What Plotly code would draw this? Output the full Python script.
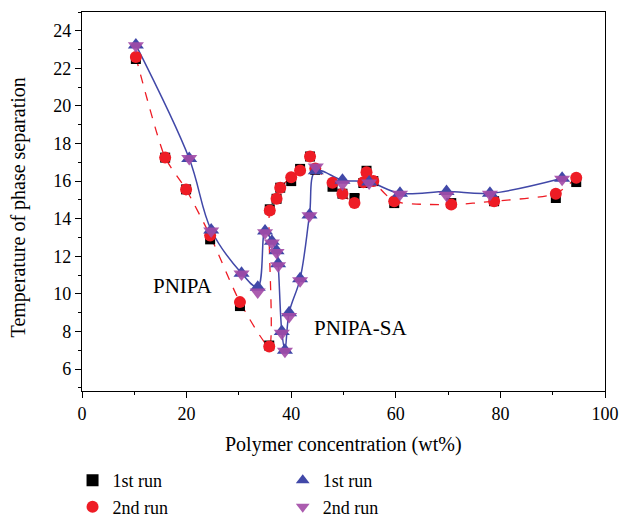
import plotly.graph_objects as go

# PNIPA
pn_x1 = [10.3, 15.9, 19.9, 24.5, 30.2, 35.8, 35.9, 37.2, 37.9, 40.0, 41.7, 43.6, 44.6, 47.9, 49.8, 52.1, 53.8, 54.4, 55.7, 59.7, 70.6, 78.8, 90.6, 94.5]
pn_y1 = [22.5, 17.25, 15.56, 12.9, 9.35, 7.25, 14.5, 15.06, 15.65, 16.0, 16.65, 17.31, 16.6, 15.7, 15.33, 15.1, 15.9, 16.55, 16.0, 14.83, 14.83, 14.93, 15.1, 15.95]
pn_x2 = [10.3, 15.9, 19.9, 24.5, 30.2, 35.8, 35.9, 37.2, 37.9, 40.0, 41.7, 43.6, 44.6, 47.9, 49.8, 52.1, 53.8, 54.4, 55.7, 59.7, 70.6, 78.8, 90.6, 94.5]
pn_y2 = [22.6, 17.25, 15.56, 13.1, 9.56, 7.2, 14.44, 15.06, 15.65, 16.21, 16.57, 17.31, 16.67, 15.91, 15.33, 14.83, 15.94, 16.47, 16.0, 14.93, 14.75, 14.93, 15.33, 16.18]

# PNIPA-SA
sa_x1 = [10.3, 20.5, 24.7, 30.5, 33.6, 35.0, 36.3, 37.2, 37.5, 38.2, 38.8, 39.6, 41.7, 43.5, 44.7, 49.8, 54.9, 60.8, 69.7, 78.0, 91.8]
sa_y1 = [23.25, 17.2, 13.4, 11.1, 10.35, 13.35, 12.8, 12.3, 11.6, 8.0, 7.0, 9.0, 10.8, 14.2, 16.55, 16.05, 15.95, 15.35, 15.45, 15.35, 16.15]
sa_x2 = [10.3, 20.5, 24.7, 30.5, 33.6, 35.0, 36.3, 37.2, 37.5, 38.2, 38.8, 39.6, 41.7, 43.5, 44.7, 49.8, 54.9, 60.8, 69.7, 78.0, 91.8]
sa_y2 = [23.2, 17.2, 13.35, 11.05, 10.1, 13.25, 12.7, 12.2, 11.5, 7.9, 6.95, 8.8, 10.7, 14.15, 16.75, 15.85, 15.9, 15.3, 15.25, 15.3, 16.1]

RED = "#ee1c25"
BLUE = "#4148a8"
PURPLE = "#a24aa6"
FONT = "Liberation Serif, DejaVu Serif, serif"

fig = go.Figure()
# lines
fig.add_trace(go.Scatter(x=pn_x2, y=pn_y2, mode="lines", line=dict(color=RED, width=1.3, dash="dash", shape="spline", smoothing=0.6), showlegend=False, hoverinfo="skip"))
fig.add_trace(go.Scatter(x=sa_x1, y=sa_y1, mode="lines", line=dict(color=BLUE, width=1.5, shape="spline", smoothing=1.0), showlegend=False, hoverinfo="skip"))

# markers
fig.add_trace(go.Scatter(x=pn_x1, y=pn_y1, mode="markers", name="1st run",
                         marker=dict(symbol="square", size=10, color="black"), legend="legend"))
fig.add_trace(go.Scatter(x=pn_x2, y=pn_y2, mode="markers", name="2nd run",
                         marker=dict(symbol="circle", size=12, color=RED), legend="legend"))
fig.add_trace(go.Scatter(x=sa_x1, y=sa_y1, mode="markers", name="1st run",
                         marker=dict(symbol="triangle-up", size=14, color=BLUE), legend="legend2"))
fig.add_trace(go.Scatter(x=sa_x2, y=sa_y2, mode="markers", name="2nd run",
                         marker=dict(symbol="triangle-down", size=14, color=PURPLE, opacity=0.9), legend="legend2"))

fig.add_annotation(x=19.3, y=10.4, text="PNIPA", showarrow=False, font=dict(family=FONT, size=21, color="black"))
fig.add_annotation(x=53.2, y=8.2, text="PNIPA-SA", showarrow=False, font=dict(family=FONT, size=21, color="black"))

# axis titles
fig.add_annotation(xref="paper", yref="paper", x=-0.122, y=0.485, text="Temperature of phase separation",
                   textangle=-90, showarrow=False, xanchor="center", yanchor="middle",
                   font=dict(family=FONT, size=20, color="black"))
fig.add_annotation(xref="paper", yref="paper", x=0.5, y=-0.14, text="Polymer concentration (wt%)",
                   showarrow=False, xanchor="center", yanchor="middle",
                   font=dict(family=FONT, size=20, color="black"))

axis_common = dict(showline=True, linecolor="black", linewidth=1.3, mirror=True, ticks="outside",
                   ticklen=6, tickwidth=1.3, tickcolor="black", showgrid=False, zeroline=False,
                   tickfont=dict(family=FONT, size=18, color="black"), automargin=False)

fig.update_xaxes(range=[0, 100], tick0=0, dtick=20,
                 minor=dict(dtick=10, ticks="outside", ticklen=3, tickwidth=1.3, tickcolor="black"),
                 **axis_common)
fig.update_yaxes(range=[4.83, 25], tick0=0, dtick=2,
                 minor=dict(dtick=1, ticks="outside", ticklen=3, tickwidth=1.3, tickcolor="black"),
                 **axis_common)

legend_common = dict(orientation="v", yanchor="top", xanchor="left", font=dict(family=FONT, size=18, color="black"),
                     bgcolor="rgba(0,0,0,0)", tracegroupgap=0, itemsizing="constant",
                     xref="container", yref="container")
fig.update_layout(
    width=620, height=521,
    margin=dict(l=82, r=15, t=12, b=130, autoexpand=False),
    paper_bgcolor="white", plot_bgcolor="white",
    legend=dict(x=0.117, y=0.113, **legend_common),
    legend2=dict(x=0.456, y=0.113, **legend_common),
)

fig.write_html("out.html")
